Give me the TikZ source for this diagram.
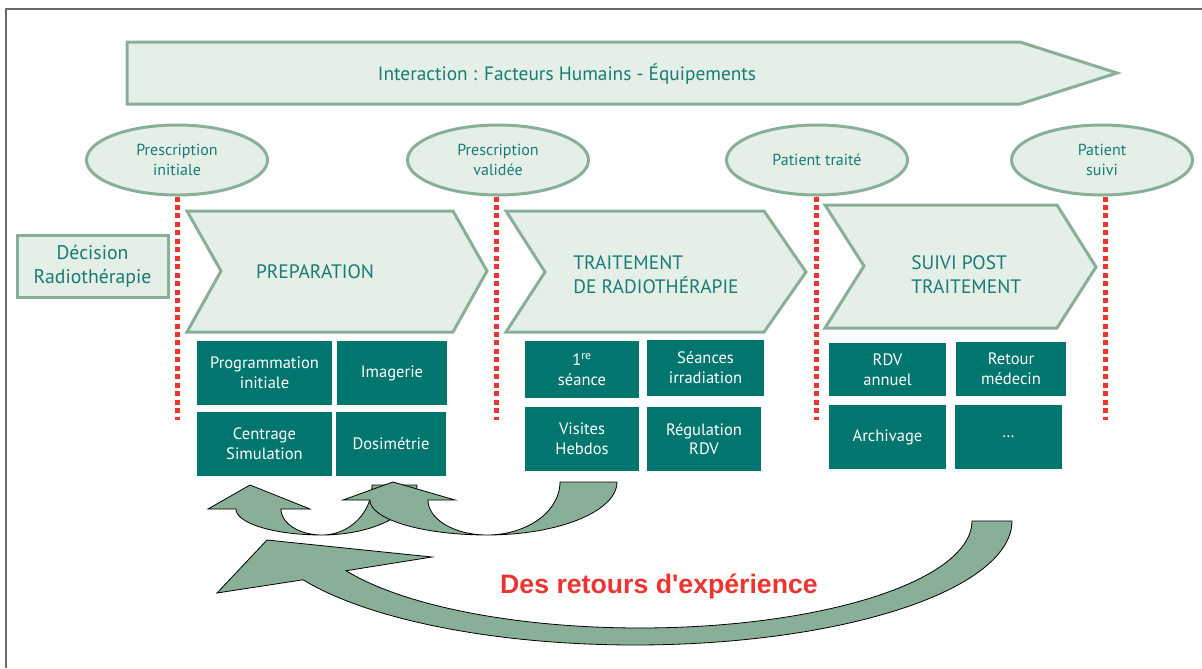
\documentclass[tikz,border=0pt]{standalone}
\usepackage{fontspec}
\usetikzlibrary{shapes.geometric}
\newfontfamily\diafont{PT Sans}
\newfontfamily\slogfont{Liberation Sans}
\definecolor{sage}{HTML}{8AAF98}
\definecolor{paleg}{HTML}{E4EFE7}
\definecolor{tealbg}{HTML}{00766F}
\definecolor{tealtx}{HTML}{1A7B74}
\definecolor{dotred}{HTML}{EE3430}
\definecolor{framegray}{HTML}{6A6A6A}
\tikzset{
  pale/.style={draw=sage, line width=2.25pt, fill=paleg},
  milestone/.style={pale, ellipse, minimum width=135.75pt, minimum height=52.5pt,
    inner sep=0pt, align=center, text=tealtx, font=\diafont\fontsize{12}{15}\selectfont},
  stagetext/.style={text=tealtx, align=left, inner sep=0pt, font=\diafont\fontsize{14.6}{18}\selectfont},
  tealbox/.style 2 args={fill=tealbg, text=white, inner sep=0pt, align=center,
    minimum width={#1*0.75pt}, minimum height={#2*0.75pt},
    font=\diafont\fontsize{12.4}{14.8}\selectfont},
  gate/.style={draw=dotred, line width=3.75pt, dash pattern=on 3.75pt off 2.6pt},
  loop/.style={draw=black, line width=0.6pt, fill=sage, line join=miter}
}
\begin{document}
\begin{tikzpicture}[x=0.75pt, y=-0.75pt]
\useasboundingbox (0,0) rectangle (1202,668);

% page frame (top and left edges)
\draw[framegray, line width=1.5pt] (6,668) -- (6,9) -- (1202,9);

% banner arrow
\draw[pale] (127,42) -- (1020,42) -- (1117,73) -- (1020,104) -- (127,104) -- cycle;
\node[text=tealtx, font=\diafont\fontsize{14.5}{16}\selectfont] (banner) at (567,74)
  {Interaction : Facteurs Humains - Équipements};

% milestones
\node[milestone] (m1) at (177,160) {Prescription\\initiale};
\node[milestone] (m2) at (498,160) {Prescription\\validée};
\node[milestone] (m3) at (817,160) {Patient traité};
\node[milestone] (m4) at (1102,160) {Patient\\suivi};

% gates below the milestones
\coordinate (g1) at (177,420);
\coordinate (g2) at (496,420);
\coordinate (g3) at (816,420);
\coordinate (g4) at (1105,420);
\draw[gate] (m1.south) -- (g1);
\draw[gate] (m2.south -| g2) -- (g2);
\draw[gate] (m3.south -| g3) -- (g3);
\draw[gate] (m4.south -| g4) -- (g4);

% starting decision
\node[pale, minimum width=113.25pt, minimum height=46.5pt, inner sep=0pt, align=center,
  text=tealtx, font=\diafont\fontsize{14.8}{18}\selectfont] (dec) at (92.5,266)
  {Décision\\Radiothérapie};

% stage chevrons
\draw[pale] (187,211) -- (453,211) -- (487,271) -- (453,332) -- (187,332) -- (221,271) -- cycle;
\node[stagetext] (prep) at (315,272) {PREPARATION};
\draw[pale] (506,211) -- (764,211) -- (806,272) -- (764,332) -- (506,332) -- (545,272) -- cycle;
\node[stagetext, anchor=west] (trt) at (573,275) {TRAITEMENT\\DE RADIOTHÉRAPIE};
\draw[pale] (825,205) -- (1057,205) -- (1096,267) -- (1057,328) -- (825,328) -- (864,266) -- cycle;
\node[stagetext, anchor=west] (suivi) at (911,275) {SUIVI POST\\TRAITEMENT};

% tasks of each stage
\node[tealbox={135}{64}] (b1) at (264.5,373) {Programmation\\initiale};
\node[tealbox={110}{64}] (b2) at (392,373) {Imagerie};
\node[tealbox={135}{64}] (b3) at (264.5,444) {Centrage\\Simulation};
\node[tealbox={110}{64}] (b4) at (391,444) {Dosimétrie};
\node[tealbox={114}{57}] (b5) at (582,369.5) {1\textsuperscript{re}\\séance};
\node[tealbox={117}{56}] (b6) at (705.5,368) {Séances\\irradiation};
\node[tealbox={114}{64}] (b7) at (582,439) {Visites\\Hebdos};
\node[tealbox={114}{64}] (b8) at (704,439) {Régulation\\RDV};
\node[tealbox={117}{53}] (b9) at (887.5,369.5) {RDV\\annuel};
\node[tealbox={110}{54}] (b10) at (1011,369) {Retour\\médecin};
\node[tealbox={117}{64}] (b11) at (887.5,437) {Archivage};
\node[tealbox={107}{64}] (b12) at (1008.5,437) {…};

% small feedback loops
\draw[loop] (250,485) -- (310,509) -- (281,509)
  -- plot[domain=0:90, samples=24] ({322-41*cos(\x)}, {509+26*sin(\x)})
  -- plot[domain=90:0, samples=24] ({322+50*cos(\x)}, {485+50*sin(\x)})
  -- (417,485)
  -- plot[domain=0:90, samples=24] ({322+95*cos(\x)}, {485+50*sin(\x)})
  -- plot[domain=90:0, samples=24] ({322-86*cos(\x)}, {509+26*sin(\x)})
  -- (208,509) -- cycle;
\draw[loop] (393,482) -- (455,500) -- (428,500)
  -- plot[domain=0:90, samples=24] ({487-59*cos(\x)}, {500+35*sin(\x)})
  -- plot[domain=90:0, samples=24] ({487+73*cos(\x)}, {482+53*sin(\x)})
  -- (617,482)
  -- plot[domain=0:90, samples=24] ({487+130*cos(\x)}, {482+53*sin(\x)})
  -- plot[domain=90:0, samples=24] ({487-117*cos(\x)}, {500+35*sin(\x)})
  -- (343,500) -- cycle;

% large feedback loop
\draw[loop] (972,521) -- (1012,521)
  -- plot[domain=0:151.7, samples=90] ({635+377*cos(\x)}, {521+124*sin(\x)})
  -- (217,593) -- (267,540) -- (432,557)
  -- plot[domain=152.3:0, samples=90] ({640+332*cos(\x)}, {521+107*sin(\x)})
  -- cycle;

\node[anchor=base, text=dotred, font=\slogfont\bfseries\fontsize{20}{23}\selectfont] (rex) at (659,593)
  {Des retours d'expérience};
\end{tikzpicture}
\end{document}
